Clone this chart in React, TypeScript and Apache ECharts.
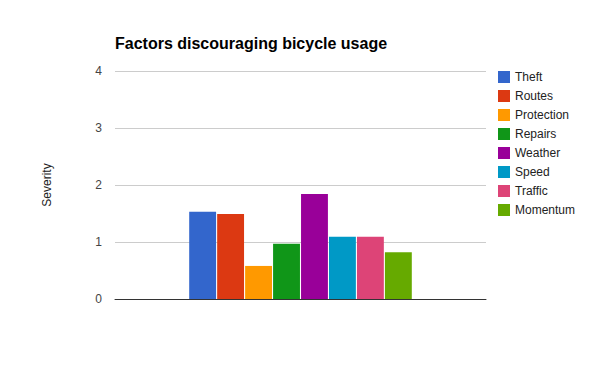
import React, { useEffect, useRef } from "react";
import * as echarts from "echarts";

const categories = [""];
const seriesNames = ["Theft", "Routes", "Protection", "Repairs", "Weather", "Speed", "Traffic", "Momentum"];
const seriesValues = [1.53, 1.49, 0.58, 0.97, 1.84, 1.09, 1.09, 0.82];
const seriesColors = ["#3366cc", "#dc3912", "#ff9900", "#109618", "#990099", "#0099c6", "#dd4477", "#66aa00"];
const yTicks = [0, 1, 2, 3, 4];

const FONT = "Arial, 'Liberation Sans', sans-serif";

export default function App() {
  const ref = useRef<HTMLDivElement>(null);
  useEffect(() => {
    if (!ref.current) return;
    const chart = echarts.init(ref.current, undefined, { renderer: "svg" });
    chart.setOption({
      animation: false,
      backgroundColor: "#ffffff",
      textStyle: { fontFamily: FONT },
      title: {
        text: "Factors discouraging bicycle usage",
        left: 110,
        top: 30,
        textStyle: { fontFamily: FONT, fontSize: 16, fontWeight: "bold", color: "#000" },
      },
      legend: {
        orient: "vertical",
        left: 493,
        top: 66,
        itemWidth: 12,
        itemGap: 7,
        itemHeight: 12,
        icon: "rect",
        data: seriesNames,
        textStyle: { fontFamily: FONT, fontSize: 12, color: "#222" },
      },
      grid: { left: 115, right: 114, top: 71, bottom: 72, containLabel: false },
      xAxis: {
        type: "category",
        data: categories,
        axisLine: { lineStyle: { color: "#333", width: 1 } },
        axisTick: { show: false },
        axisLabel: { show: false },
      },
      yAxis: {
        type: "value",
        min: yTicks[0],
        max: yTicks[yTicks.length - 1],
        interval: 1,
        name: "Severity",
        nameLocation: "middle",
        nameGap: 62,
        nameTextStyle: { fontFamily: FONT, fontSize: 12, color: "#222" },
        axisLine: { show: false },
        axisTick: { show: false },
        axisLabel: { margin: 13, fontFamily: FONT, fontSize: 12, color: "#444" },
        splitLine: { lineStyle: { color: "#cccccc", width: 1 } },
      },
      series: seriesNames.map((name, i) => ({
        name,
        type: "bar",
        data: [seriesValues[i]],
        itemStyle: { color: seriesColors[i] },
        barGap: "4%",
        barCategoryGap: "40%",
      })),
    });
    return () => chart.dispose();
  }, []);
  return <div ref={ref} style={{ width: 600, height: 371, position: "absolute", left: 0, top: 0 }} />;
}
